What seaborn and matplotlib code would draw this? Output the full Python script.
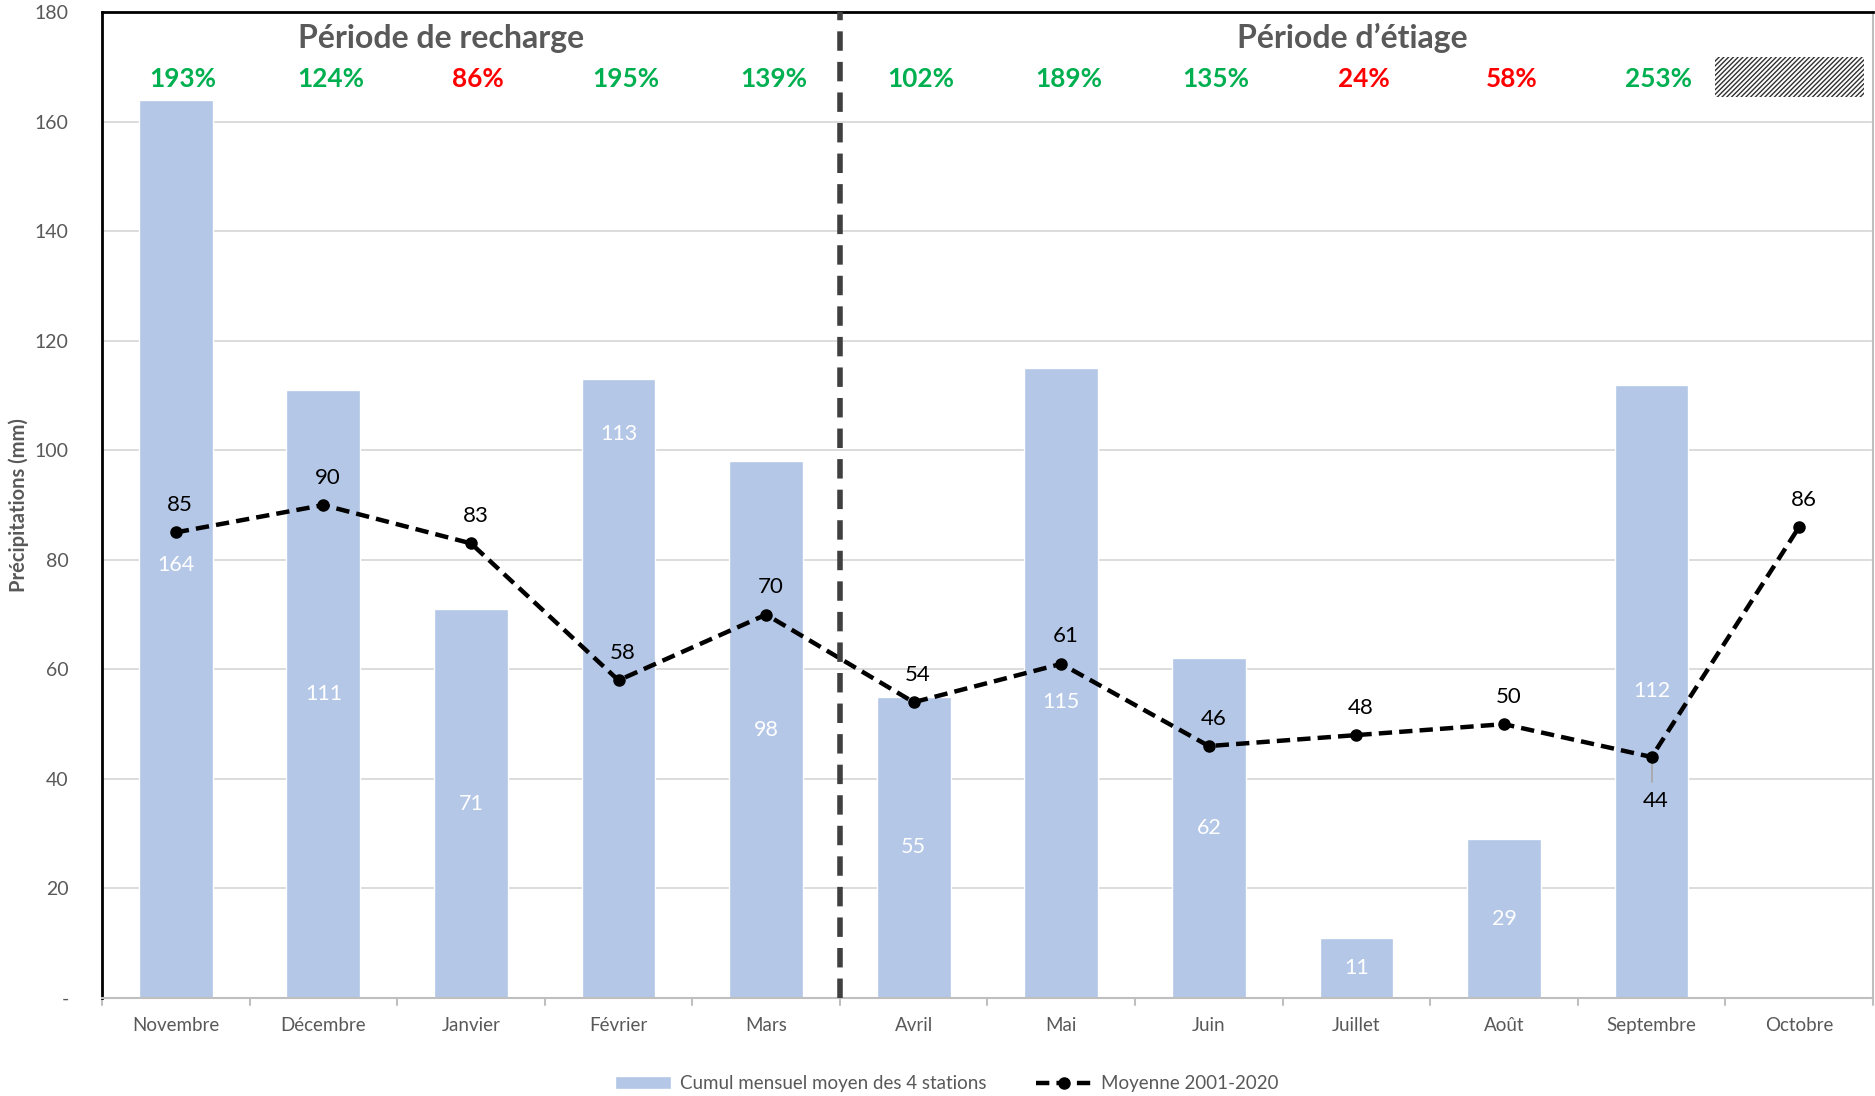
import numpy as np
import pandas as pd
import seaborn as sns
import matplotlib.pyplot as plt
from matplotlib.patches import Rectangle, Patch
from matplotlib.lines import Line2D

mois = ["Novembre", "Décembre", "Janvier", "Février", "Mars", "Avril",
        "Mai", "Juin", "Juillet", "Août", "Septembre", "Octobre"]
cumul = [164, 111, 71, 113, 98, 55, 115, 62, 11, 29, 112, np.nan]
moyenne = [85, 90, 83, 58, 70, 54, 61, 46, 48, 50, 44, 86]
pourcent = ["193%", "124%", "86%", "195%", "139%", "102%", "189%", "135%", "24%", "58%", "253%", None]
excedent = [True, True, False, True, True, True, True, True, False, False, True, None]

df = pd.DataFrame({"mois": mois, "cumul": cumul, "moyenne": moyenne})

sns.set_style("white")
plt.rcParams['font.family'] = ['Lato', 'DejaVu Sans']
plt.rcParams['hatch.color'] = "#303030"
plt.rcParams['hatch.linewidth'] = 1.0

fig = plt.figure(figsize=(18.75, 10.96), dpi=100)
ax = fig.add_axes([0.0544, 0.0894, 0.9445, 0.8996])

sns.barplot(data=df, x="mois", y="cumul", color="#B4C7E7", width=0.5,
            saturation=1, ax=ax, zorder=2)
x = np.arange(len(mois))
ax.plot(x, moyenne, color="black", lw=3.2, ls=(0, (3, 1.6)), marker="o",
        markersize=8, zorder=4)

# grille + axes
ax.set_ylim(0, 180)
ax.set_xlim(-0.5, 11.5)
ax.set_yticks(range(0, 181, 20))
ax.set_yticklabels(["-"] + [str(v) for v in range(20, 181, 20)])
ax.yaxis.grid(True, color="#D9D9D9", lw=1.3, zorder=0)
ax.set_axisbelow(True)
ax.tick_params(axis="y", length=0, pad=24, labelsize=14, labelcolor="#595959")
ax.tick_params(axis="x", length=0, pad=14, labelsize=13.5, labelcolor="#595959")
for s in ["left", "top"]:
    ax.spines[s].set_color("black")
    ax.spines[s].set_linewidth(2)
for s in ["right", "bottom"]:
    ax.spines[s].set_color("#BFBFBF")
    ax.spines[s].set_linewidth(1.5)
ax.set_xlabel("")
ax.set_ylabel("Précipitations (mm)", fontsize=14.5, fontweight="bold", color="#595959")
ax.yaxis.set_label_coords(-0.041, 0.5)
for b in np.arange(-0.5, 12, 1):
    ax.plot([b, b], [0, -1.2], color="#BFBFBF", lw=1.5, clip_on=False)

# étiquettes (quelques-unes déplacées pour éviter la courbe)
decale = {0: 79, 3: 103, 6: 54}
for i, v in enumerate(cumul):
    if not np.isnan(v):
        ax.text(i, decale.get(i, v / 2), f"{v:.0f}", ha="center", va="center",
                color="white", fontsize=15.5)
for i, v in enumerate(moyenne):
    if i == 10:
        ax.plot([i, i], [v - 0.5, v - 4.5], color="#A6A6A6", lw=1.2, zorder=3)
        ax.text(i + 0.03, v - 8, f"{v}", ha="center", va="center", fontsize=16, color="black")
    else:
        ax.text(i + 0.03, v + 5, f"{v}", ha="center", va="center", fontsize=16, color="black")

for i, (p, ok) in enumerate(zip(pourcent, excedent)):
    if p is not None:
        ax.text(i + 0.05, 167.8, p, ha="center", va="center", fontsize=18.8, fontweight="bold",
                color="#00B050" if ok else "#FF0000")
ax.add_patch(Rectangle((10.43, 164.5), 1.01, 7.3, facecolor="white", edgecolor="#303030",
                       lw=0, hatch="/" * 7, zorder=3))

ax.text(1.8, 175.2, "Période de recharge", ha="center", va="center", fontsize=23,
        fontweight="bold", color="#595959")
ax.text(7.97, 175.2, "Période d\u2019étiage", ha="center", va="center", fontsize=23,
        fontweight="bold", color="#595959")
ax.axvline(4.5, color="#404040", lw=4, ls=(0, (3.5, 2)), zorder=5)

handles = [Patch(facecolor="#B4C7E7", label="Cumul mensuel moyen des 4 stations"),
           Line2D([0], [0], color="black", lw=3.2, ls=(0, (3, 1.6)), marker="o",
                  markersize=8, label="Moyenne 2001-2020")]
fig.legend(handles=handles, loc="lower center", bbox_to_anchor=(0.505, -0.012), ncol=2,
           frameon=False, fontsize=13.5, labelcolor="#595959", columnspacing=2.6,
           handlelength=3, handletextpad=0.5)

fig.savefig("out.png", dpi=100)
